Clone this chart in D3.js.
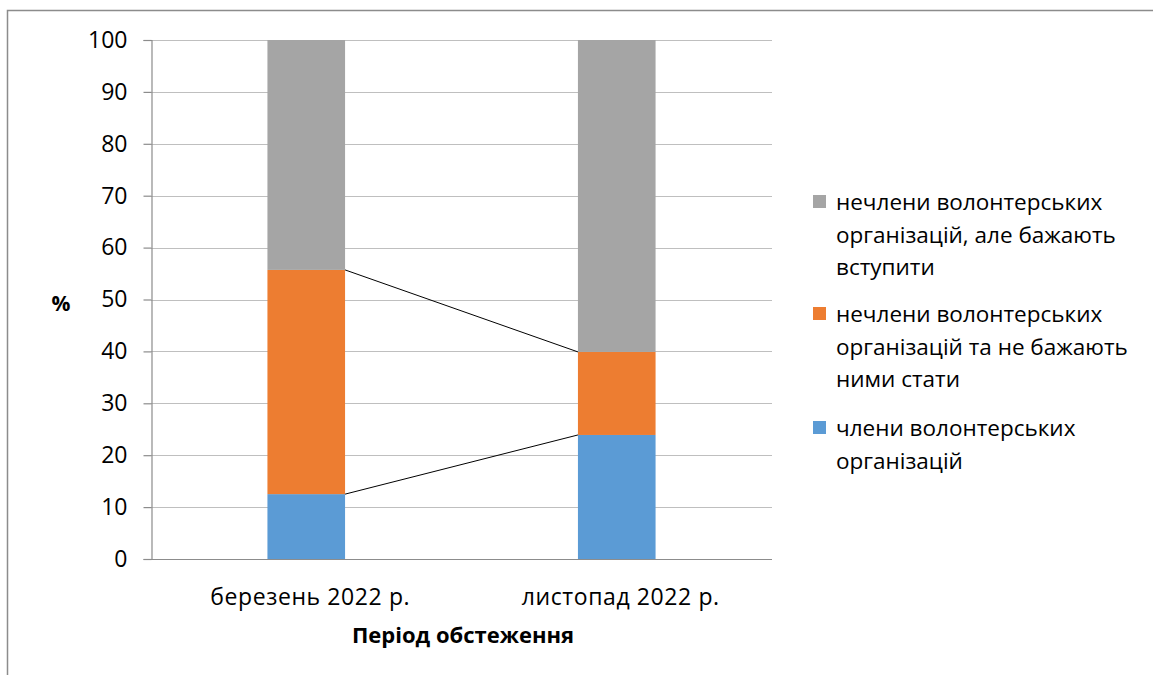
<!DOCTYPE html>
<html>
<head>
<meta charset="utf-8">
<script src="https://cdn.jsdelivr.net/npm/d3@7"></script>
<style>
	body { margin: 0; background: #fff; }
	text { font-family: "Open Sans", "Noto Sans", sans-serif; fill: #000; }
</style>
</head>
<body>
<svg id="chart" width="1153" height="675"></svg>
<script>
// data
var categories = ["березень 2022 р.", "листопад 2022 р."];
var seriesNames = [
	"члени волонтерських організацій",
	"нечлени волонтерських організацій та не бажають ними стати",
	"нечлени волонтерських організацій, але бажають вступити"
];
var members = [12.5, 23.9];
var notWishing = [43.2, 16.0];
var wishing = [44.3, 60.1];
var yTicks = [0, 10, 20, 30, 40, 50, 60, 70, 80, 90, 100];
var legendLines = [
	["нечлени волонтерських", "організацій, але бажають", "вступити"],
	["нечлени волонтерських", "організацій та не бажають", "ними стати"],
	["члени волонтерських", "організацій"]
];

// constants
var COLORS = ["#5B9BD5", "#ED7D31", "#A5A5A5"];
var GRID_COLOR = "#BFBFBF";
var AXIS_COLOR = "#8C8C8C";
var PLOT_LEFT = 151, PLOT_RIGHT = 772, PLOT_TOP = 40, PLOT_BOTTOM = 559;

var svg = d3.select("#chart");

// outer chart border
svg.append("path")
	.attr("d", "M 7.5 675 L 7.5 10.5 L 1153 10.5")
	.attr("fill", "none")
	.attr("stroke", "#8C8C8C")
	.attr("stroke-width", 1.5);

var x = d3.scaleBand()
	.domain(categories)
	.range([PLOT_LEFT, PLOT_RIGHT])
	.padding(0);
var y = d3.scaleLinear()
	.domain([0, 100])
	.range([PLOT_BOTTOM, PLOT_TOP]);

// gridlines
svg.append("g")
	.selectAll("line")
	.data(yTicks.filter(function(d) { return d > 0; }))
	.enter().append("line")
	.attr("x1", PLOT_LEFT)
	.attr("x2", PLOT_RIGHT)
	.attr("y1", function(d) { return Math.round(y(d)) + 0.5; })
	.attr("y2", function(d) { return Math.round(y(d)) + 0.5; })
	.attr("stroke", GRID_COLOR)
	.attr("stroke-width", 1.2);

// y axis
var yAxis = svg.append("g")
	.attr("transform", "translate(" + (PLOT_LEFT + 0.5) + ",0)")
	.call(d3.axisLeft(y).tickValues(yTicks).tickSize(8).tickPadding(16));
yAxis.select(".domain").attr("stroke", AXIS_COLOR).attr("stroke-width", 1.2);
yAxis.selectAll(".tick line").attr("stroke", AXIS_COLOR).attr("stroke-width", 1.2);
yAxis.selectAll(".tick text")
	.attr("font-size", 23)
	.attr("font-family", "'Open Sans', sans-serif")
	.attr("fill", "#000");

// x axis baseline
svg.append("line")
	.attr("x1", PLOT_LEFT)
	.attr("x2", PLOT_RIGHT)
	.attr("y1", y(0) + 0.5)
	.attr("y2", y(0) + 0.5)
	.attr("stroke", AXIS_COLOR)
	.attr("stroke-width", 1.2);

// stacked data
var rows = categories.map(function(c, i) {
	return { cat: c, s0: members[i], s1: notWishing[i], s2: wishing[i] };
});
var stack = d3.stack().keys(["s0", "s1", "s2"]);
var layers = stack(rows);

var barWidth = x.bandwidth() * 0.25;
var barX = function(cat) { return x(cat) + (x.bandwidth() - barWidth) / 2; };

svg.append("g")
	.selectAll("g")
	.data(layers)
	.enter().append("g")
	.attr("fill", function(d, i) { return COLORS[i]; })
	.selectAll("rect")
	.data(function(d) { return d; })
	.enter().append("rect")
	.attr("x", function(d) { return barX(d.data.cat); })
	.attr("width", barWidth)
	.attr("y", function(d) { return y(d[1]); })
	.attr("height", function(d) { return y(d[0]) - y(d[1]); });

// series lines between bars
[layers[0], layers[1]].forEach(function(layer) {
	svg.append("line")
		.attr("x1", barX(categories[0]) + barWidth)
		.attr("y1", y(layer[0][1]))
		.attr("x2", barX(categories[1]))
		.attr("y2", y(layer[1][1]))
		.attr("stroke", "#000")
		.attr("stroke-width", 1);
});

// category labels
svg.append("g")
	.selectAll("text")
	.data(categories)
	.enter().append("text")
	.attr("x", function(d) { return x(d) + x.bandwidth() / 2 + 4; })
	.attr("y", 605)
	.attr("text-anchor", "middle")
	.attr("font-size", 23)
	.attr("letter-spacing", 0.6)
	.text(function(d) { return d; });

// axis titles
svg.append("text")
	.attr("x", 463)
	.attr("y", 643)
	.attr("text-anchor", "middle")
	.attr("font-size", 22)
	.attr("font-weight", "bold")
	.text("Період обстеження");
svg.append("text")
	.attr("x", 61)
	.attr("y", 311)
	.attr("text-anchor", "middle")
	.attr("font-size", 21)
	.attr("font-weight", "bold")
	.text("%");

// legend
var legendTops = [202, 314, 428];
var legendColors = [COLORS[2], COLORS[1], COLORS[0]];
legendLines.forEach(function(lines, i) {
	svg.append("rect")
		.attr("x", 813)
		.attr("y", legendTops[i] - 7)
		.attr("width", 13)
		.attr("height", 13)
		.attr("fill", legendColors[i]);
	var t = svg.append("text")
		.attr("x", 836)
		.attr("y", legendTops[i] + 8)
		.attr("font-size", 22.5);
	lines.forEach(function(line, j) {
		t.append("tspan")
			.attr("x", 836)
			.attr("dy", j == 0 ? 0 : 32.5)
			.text(line);
	});
});
</script>
</body>
</html>
